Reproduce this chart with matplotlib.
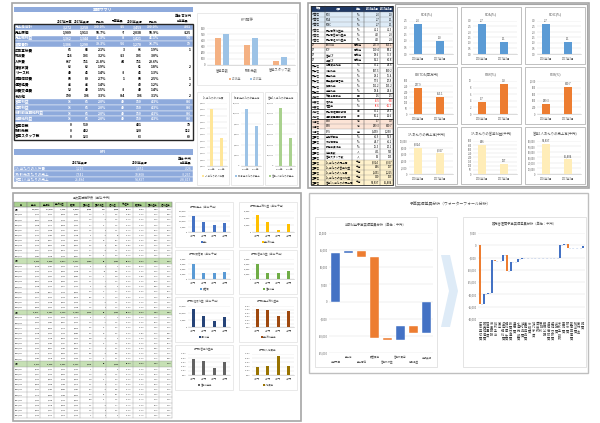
import matplotlib
matplotlib.use('Agg')
import matplotlib.pyplot as plt
from matplotlib.patches import Rectangle, Polygon

plt.rcParams['font.family'] = ['Noto Sans CJK JP', 'DejaVu Sans']

# ================================ data =================================

# 業績サマリ (単位:百万円)
summary_items = ['売上高合計', '売上原価', '売上総利益', '販管費計', '広告宣伝費', '物流費',
                 '人件費', '賃借家賃', 'リース料', '減価償却費', '通信経費', '旅費交通費',
                 'その他', '営業利益', '経常利益', '税引前当期純利益', '当期純利益',
                 '営業日数', '取引先数', '営業スタッフ数']
budget_2017 = [3272, 1909, 1362, 1306, 65, 116, 667, 62, 49, 88, 45, 52, 190,
               16, 16, 16, 16, 0, 0, 0]
actual_2017 = [3258, 1913, 1344, 1290, 68, 103, 711, 62, 46, 89, 45, 49, 106,
               65, 65, 65, 65, 510, 432, 123]
ratio_2017 = [100.0, 58.7, 41.3, 39.3, 2.1, 3.2, 21.8, 1.9, 1.4, 2.7, 1.4, 1.5, 3.3,
              2.0, 2.0, 2.0, 2.0, None, None, None]
budget_diff = [-15, -7, -8, -56, 3, -13, 44, None, -3, 1, None, -3, -84,
               49, 49, 49, 49, None, None, None]
actual_2016 = [3459, 2038, 1421, 1270, 66, 103, 711, 61, 46, 88, 42, 49, 106,
               150, 150, 150, 150, 431, 320, 63]
ratio_2016 = [100.0, 58.9, 41.1, 36.7, 1.9, 3.0, 20.6, 1.8, 1.3, 2.5, 1.2, 1.4, 3.1,
              4.3, 4.3, 4.3, 4.3, None, None, None]
prev_diff = [-201, -125, -76, 19, 1, None, None, 2, None, 1, 2, None, 2,
             -86, -86, -86, -86, 79, 112, 60]
summary_blue = [0, 2, 3, 13, 14, 15, 16]
summary_head = ['2017年予算', '2017年実績', '売上比', '予算差異', '2016年実績', '売上比', '前年差異']

# KPI (単位:千円)
kpi_items = ['1人当たりの人件費', '1取引先あたりの売上', '営業1人当たりの売上']
kpi_2017 = [1225, 7541, 26484]
kpi_2016 = [1451, 10808, 54897]
kpi_diff = [-226, -3267, -28413]
kpi_chart_titles = ['1人当たりの人件費', '1取引先あたりの売上高', '営業1人当たりの売上高']

# KPI推移
trend_cats = ['営業日数', '取引先数', '営業スタッフ数']
trend_2016 = [431, 320, 63]
trend_2017 = [510, 432, 123]
years = ['2016年', '2017年']

# 経営指標一覧
ratio_head = ['分類', '項目', '単位', '2016年3月', '2017年3月']
ratio_cat = (['収益性'] * 6 + ['CF'] * 4 + ['安全性'] * 6 + ['効率性']
             + ['成長性'] * 2 + ['効率性'] * 2 + ['市場性'] * 3 + ['生産性'] * 10)
ratio_item = ['ROE', 'ROA', 'ROIC', '売上高総利益率', '売上高営業利益率', '売上高経常利益率',
              'EBITDA', 'FCF', '営業CF', '投資CF',
              '自己資本比率', '流動比率', '固定比率', '固定長期適合率', '負債比率', '当座比率',
              '総資本回転率', '増収率', '増益率', '売上債権回転期間', '棚卸資産回転期間',
              'PBR', 'PER', 'EPS',
              '労働分配率', '付加価値率', '設備投資効率', '従業員数', '営業スタッフ数',
              '1人当たりの売上高', '1人当たりの営業利益', '1人当たりの人件費',
              '1人当たりの経常利益', '営業1人当たりの売上高']
ratio_unit = (['%'] * 6 + ['百万円'] * 4 + ['%'] * 6 + ['回'] + ['%'] * 2 + ['日'] * 2
              + ['倍', '倍', '円'] + ['%', '%', '%', '人', '人'] + ['千円'] * 5)
ratio_v2016 = [2.3, 2.7, 2.7, 41.1, 4.3, 4.3, 237.9, 120.4, 98.6, 61.2,
               45.2, 187.3, 92.1, 70.5, 121.2, 98.4, 1.6, -4.5, -8.6, 45.1, 30.2,
               3.7, 289.3, 3459, 46.9, 44.7, 25.3, 431, 63,
               8024, 346, 1451, 310, 54897]
ratio_v2017 = [1.0, 1.1, 1.1, 41.3, 2.0, 2.0, 153.1, 88.2, 75.3, 40.8,
               44.8, 180.2, 95.4, 72.8, 123.2, 94.6, 1.5, -5.8, -56.7, 48.3, 32.6,
               9.2, 810.7, 3258, 52.9, 46.2, 20.1, 513, 123,
               6357, 127, 1225, 135, 26484]
ratio_blue = [0, 1, 2]
ratio_salmon = [6, 21, 22]
ratio_yellow = [29, 30, 31, 32, 33]
ratio_red = [17, 18]

# 経営指標グラフ
metric_titles = ['ROE(%)', 'ROA(%)', 'ROIC(%)', 'EBITDA(百万円)', 'PBR(%)', 'PER(%)',
                 '1人あたりの売上高(千円)', '1人あたりの営業利益(千円)', '営業1人あたりの売上高(千円)']
metric_2016 = [2.3, 2.7, 2.7, 237.9, 3.7, 289.3, 8024, 346, 54897]
metric_2017 = [1.0, 1.1, 1.1, 153.1, 9.2, 810.7, 6357, 127, 26484]
metric_ticks = [(0, 2.5, 0.5), (0, 3.0, 0.5), (0, 3.0, 0.5), (0, 300, 50), (0, 10, 2),
                (0, 1000, 200), (0, 10000, 2000), (0, 400, 50), (0, 60000, 10000)]
metric_years = ['2016年3月', '2017年3月']

# 月次実績推移表 (単位:千円)
monthly_head = ['月', '売上高', '売上原価', '売上総利益', '販管費', '営業利益', '営業外損益',
                '経常利益', '総利益率', '販管費率', '営業利益率', '経常利益率']
monthly_sales = [4851, 5062, 4930, 5127, 4788, 5310, 5245, 4967, 5402,
                 4620, 4895, 5133, 5018, 4760, 5290, 5377, 4912, 5066,
                 4703, 4988, 5214, 5150, 4835, 5341, 5263, 4879, 5105,
                 4692, 4957, 5188, 5036, 4811, 5275, 5398, 4926, 5082, 4744]
monthly_cost = [2812, 2950, 2871, 2990, 2805, 3087, 3041, 2889, 3150,
                2702, 2853, 2991, 2920, 2783, 3077, 3122, 2860, 2944,
                2748, 2901, 3036, 2998, 2820, 3104, 3061, 2847, 2970,
                2741, 2889, 3019, 2930, 2806, 3069, 3140, 2870, 2957, 2772]
monthly_sga = [1905, 1988, 1942, 2011, 1890, 2065, 2038, 1951, 2097,
               1866, 1930, 2003, 1967, 1882, 2044, 2079, 1939, 1990,
               1871, 1958, 2026, 2009, 1915, 2071, 2045, 1927, 1996,
               1868, 1944, 2019, 1975, 1901, 2052, 2088, 1935, 1989, 1884]
monthly_nonop = [12, -8, 15, 5, -3, 20, 9, -6, 14,
                 3, -10, 11, 7, -4, 18, 13, -2, 6,
                 4, -7, 16, 10, -5, 19, 8, -3, 12,
                 2, -9, 14, 6, -2, 17, 15, -4, 9, 3]
monthly_blocks = [9, 9, 9, 10]
first_month = (2014, 4)

# 部門別グラフ
dept_names = ['A部門', 'B部門', 'C部門', 'D部門']
dept_titles = ['部門別売上（単位:千円）', '部門別売上総利益（単位:千円）',
               '部門別販管費（単位:千円）', '部門別営業利益（単位:千円）',
               '部門別経常利益（単位:千円）', '部門別売上総利益率',
               '部門別営業利益率', '部門別人件費率']
dept_legend = ['売上', '売上総利益', '販管費', '営業利益', '経常利益', '売上総利益率',
               '営業利益率', '人件費率']
dept_values = [[148000, 95000, 68000, 85000],
               [50000, 29000, 5000, 22000],
               [60000, 25000, 23000, 30000],
               [61000, 26000, 24000, 31000],
               [130000, 80000, 42000, 70000],
               [0.52, 0.48, 0.32, 0.46],
               [0.39, 0.33, 0.17, 0.31],
               [0.18, 0.22, 0.45, 0.22]]
dept_ticks = [(0, 200000, 50000), (0, 60000, 20000), (0, 80000, 20000), (0, 80000, 20000),
              (0, 150000, 50000), (0, 0.6, 0.1), (0, 0.5, 0.1), (0, 0.5, 0.1)]
dept_colors = ['#4472c4', '#ffc000', '#5b9bd5', '#70ad47',
               '#264478', '#9e480e', '#636363', '#997300']

# ウォーターフォール
profit_items = ['当期予算', '売上高', '売上原価', '販管費等', '営業外収益', '営業外費用',
                '特別損益', '当期実績']
profit_budget = 14200
profit_steps = [500, -1600, -23800, -500, 4000, -2000]

sga_items = ['広告宣伝費', '販売促進費', '荷造運賃', '役員報酬', '給料手当', '賞与',
             '法定福利費', '福利厚生費', '旅費交通費', '通信費', '水道光熱費', '消耗品費',
             '事務用品費', '修繕費', '地代家賃', '賃借料', '保険料', '租税公課',
             '減価償却費', '接待交際費', '会議費', '支払手数料', '車両費', '研修費',
             '新聞図書費', '諸会費', '寄付金', '雑費']
sga_steps = [-23800, 4000, 300, 13500, -300, -200, 2500, -6300, 3300, 200,
             1200, 250, 100, 80, 60, -50, 40, 30, -40, 20,
             30, 5300, 500, -1900, -50, 0, 30, 1100]

# ================================ setup ================================

W, H = 600, 423
fig = plt.figure(figsize=(6, 4.23), dpi=100)
bg = fig.add_axes([0, 0, 1, 1])
bg.set_xlim(0, W)
bg.set_ylim(H, 0)
bg.axis('off')

BLUE = '#8eaadc'
GRAY_TXT = '#595959'
WF_BLUE = '#4472c4'
WF_ORANGE = '#ed7d31'


def box(x0, y0, x1, y1, fc='white', ec='#bfbfbf', lw=0.6, z=1):
    bg.add_patch(Rectangle((x0, y0), x1 - x0, y1 - y0, facecolor=fc,
                           edgecolor=ec, linewidth=lw, zorder=z))


def hline(x0, x1, y, color='#808080', lw=0.25, z=3):
    bg.plot([x0, x1], [y, y], color=color, linewidth=lw, zorder=z)


def vline(x, y0, y1, color='#808080', lw=0.25, z=3):
    bg.plot([x, x], [y0, y1], color=color, linewidth=lw, zorder=z)


def txt(x, y, s, size=2.4, ha='center', color='black', weight='normal', z=5):
    bg.text(x, y, s, fontsize=size, ha=ha, va='center', color=color,
            fontweight=weight, zorder=z)


def sub_axes(x0, y0, x1, y1):
    ax = fig.add_axes([x0 / W, 1 - y1 / H, (x1 - x0) / W, (y1 - y0) / H])
    ax.patch.set_alpha(0)
    return ax


def style_axes(ax, ticks, yfmt, size, spine=True):
    ax.set_ylim(ticks[0], ticks[-1])
    ax.set_yticks(ticks)
    ax.set_yticklabels([yfmt(v) for v in ticks])
    ax.grid(axis='y', color='#d9d9d9', linewidth=0.3)
    ax.set_axisbelow(True)
    for s in ('top', 'right', 'left'):
        ax.spines[s].set_visible(False)
    ax.spines['bottom'].set_visible(spine)
    ax.spines['bottom'].set_color('#bfbfbf')
    ax.spines['bottom'].set_linewidth(0.4)
    ax.tick_params(length=0, labelsize=size, colors=GRAY_TXT, pad=1)


def tick_list(lo, hi, step):
    n = int(round((hi - lo) / step))
    return [lo + k * step for k in range(n + 1)]


def legend_item(cx, cy, label, color, size):
    w = 2.8 + len(label) * size * 1.25
    x = cx - w / 2
    bg.add_patch(Rectangle((x, cy - 1), 2, 2, facecolor=color, edgecolor='none', zorder=5))
    txt(x + 2.8, cy, label, size=size, ha='left', color=GRAY_TXT)


def f_int(v):
    return '' if v is None else f'{v:,}'


def f_pct(v):
    return '' if v is None else f'{v:.1f}%'


# ============================ 業績サマリ ============================

def draw_summary():
    box(12, 3, 300, 188, ec='#a6a6a6', lw=1.2)
    box(14, 7, 193, 12.5, fc=BLUE, ec='none')
    txt(103, 9.8, '業績サマリ', size=2.8, color='white', weight='bold')
    txt(192, 15.5, '単位:百万円', size=2.3, ha='right')
    head_x = [65, 82, 100, 118, 135, 153, 183]
    for x, h in zip(head_x, summary_head):
        txt(x, 21.5, h, size=2.1, weight='bold')

    right_x = [72, 89, 106, 125, 142, 159, 191]
    top, rh = 24.0, 5.78
    for i, name in enumerate(summary_items):
        y = top + i * rh
        blue = i in summary_blue
        if blue:
            box(14, y, 193, y + rh, fc=BLUE, ec='white', lw=0.3, z=2)
        col = 'white' if blue else 'black'
        txt(15, y + rh / 2, name, size=2.6, ha='left', color=col, weight='bold')
        cells = [f_int(budget_2017[i]), f_int(actual_2017[i]), f_pct(ratio_2017[i]),
                 f_int(budget_diff[i]), f_int(actual_2016[i]), f_pct(ratio_2016[i]),
                 f_int(prev_diff[i])]
        for x, c in zip(right_x, cells):
            txt(x, y + rh / 2, c, size=2.4, ha='right', color=col, weight='bold')
    box(14, top, 193, top + len(summary_items) * rh, fc='none', ec='#262626', lw=1.0, z=6)

    # KPI
    box(14, 149.5, 193, 155, fc=BLUE, ec='none')
    txt(103, 152.3, 'KPI', size=2.6, color='white', weight='bold')
    txt(192, 159, '単位:千円', size=2.3, ha='right')
    txt(80, 163, '2017年実績', size=2.1, weight='bold')
    txt(140, 163, '2016年実績', size=2.1, weight='bold')
    txt(191, 163.5, '前年差異', size=2.1, ha='right', weight='bold')
    for i, name in enumerate(kpi_items):
        y = 166 + i * 5.5
        box(14, y, 193, y + 5.5, fc=BLUE, ec='white', lw=0.3, z=2)
        txt(15, y + 2.75, name, size=2.6, ha='left', color='white')
        txt(80, y + 2.75, f_int(kpi_2017[i]), size=2.4, color='white')
        txt(140, y + 2.75, f_int(kpi_2016[i]), size=2.4, color='white')
        txt(191, y + 2.75, f_int(kpi_diff[i]), size=2.4, ha='right', color='white')

    # KPI推移
    box(197, 13, 297, 85, ec='#d9d9d9', lw=0.4)
    txt(247, 20, 'KPI推移', size=2.6, color=GRAY_TXT)
    ax = sub_axes(207, 28, 295, 65)
    xs = range(len(trend_cats))
    ax.bar([x - 0.13 for x in xs], trend_2016, width=0.22, color='#f4b183')
    ax.bar([x + 0.13 for x in xs], trend_2017, width=0.22, color='#9dc3e6')
    ax.set_xticks(list(xs))
    ax.set_xticklabels(trend_cats)
    ax.set_xlim(-0.52, 2.52)
    style_axes(ax, tick_list(0, 600, 100), lambda v: f'{v:,}', 2.0)
    ax.tick_params(axis='x', labelsize=2.3, pad=2.5)
    legend_item(237, 79, years[0], '#f4b183', 2.1)
    legend_item(258, 79, years[1], '#9dc3e6', 2.1)

    # three small KPI charts
    lefts = [197, 231, 265]
    colors = ['#ffe699', '#9dc3e6', '#a9d18e']
    ticks = [(1000, 1500, 50), (0, 12000, 2000), (0, 60000, 10000)]
    for k in range(3):
        L, R = lefts[k], lefts[k] + 32
        box(L, 92, R, 185, ec='#d9d9d9', lw=0.4)
        txt((L + R) / 2, 97, kpi_chart_titles[k], size=1.8, color=GRAY_TXT)
        ax = sub_axes(L + 10, 103, R - 2, 166)
        ax.bar([0, 1], [kpi_2016[k], kpi_2017[k]], width=0.3, color=colors[k])
        ax.set_xticks([0, 1])
        ax.set_xticklabels(years)
        ax.set_xlim(-0.5, 1.5)
        style_axes(ax, tick_list(*ticks[k]), lambda v: f'{v:,}', 1.7)
        legend_item((L + R) / 2, 176, kpi_items[k], colors[k], 1.7)


# ============================ 経営指標 ============================

def draw_ratios():
    box(308, 3, 589, 188, ec='#a6a6a6', lw=1.2)
    cols = [311, 325, 352, 364, 380, 393]
    box(cols[0], 6, cols[-1], 12, fc='#1f3864', ec='none', z=2)
    for j, h in enumerate(ratio_head):
        txt((cols[j] + cols[j + 1]) / 2, 9, h, size=1.9, color='white', weight='bold')
    n = len(ratio_item)
    rh = (185 - 12) / n
    for i in range(n):
        y = 12 + i * rh
        if i in ratio_blue:
            fc = '#ddebf7'
        elif i in ratio_salmon:
            fc = '#fce4d6'
        elif i in ratio_yellow:
            fc = '#fff2cc'
        else:
            fc = 'white'
        box(cols[0], y, cols[-1], y + rh, fc=fc, ec='none', z=2)
        cy = y + rh / 2
        txt(cols[0] + 0.8, cy, ratio_cat[i], size=1.9, ha='left')
        txt(cols[1] + 0.8, cy, ratio_item[i], size=1.9, ha='left')
        txt((cols[2] + cols[3]) / 2, cy, ratio_unit[i], size=1.9)
        vcol = 'red' if i in ratio_red else 'black'
        if ratio_unit[i] in ('千円', '人', '円'):
            vals = [f'{ratio_v2016[i]:,}', f'{ratio_v2017[i]:,}']
        else:
            vals = [f'{ratio_v2016[i]:.1f}', f'{ratio_v2017[i]:.1f}']
        txt(cols[4] - 0.8, cy, vals[0], size=1.9, ha='right', color=vcol)
        txt(cols[5] - 0.8, cy, vals[1], size=1.9, ha='right', color=vcol)
        thick = i > 0 and ratio_cat[i] != ratio_cat[i - 1]
        hline(cols[0], cols[-1], y, color='#262626' if thick else '#8c8c8c',
              lw=0.6 if thick else 0.25)
    for x in cols:
        vline(x, 6, 185, color='#404040', lw=0.3)
    box(cols[0], 6, cols[-1], 185, fc='none', ec='#262626', lw=0.6, z=4)

    box(395, 4.5, 587, 186, ec='#a6a6a6', lw=0.8)
    lefts = [397, 461, 525]
    tops = [7, 67, 127]
    colors = ['#5b9bd5', '#ed7d31', '#ffedb8']
    for k in range(9):
        r, c = divmod(k, 3)
        L, T = lefts[c], tops[r]
        R, B = L + 60, T + 57
        box(L, T, R, B, ec='#a6a6a6', lw=0.5)
        txt((L + R) / 2, T + 7, metric_titles[k], size=2.4, color=GRAY_TXT)
        ax = sub_axes(L + 12, T + 14, R - 4, B - 10)
        vals = [metric_2016[k], metric_2017[k]]
        ax.bar([0, 1], vals, width=0.36, color=colors[r])
        ax.set_xticks([0, 1])
        ax.set_xticklabels(metric_years)
        ax.set_xlim(-0.4, 1.6)
        lo, hi, st = metric_ticks[k]
        if r == 0:
            yf = lambda v: f'{v:.1f}'
        else:
            yf = lambda v: f'{v:,.0f}'
        style_axes(ax, tick_list(lo, hi, st), yf, 1.8)
        ax.tick_params(axis='x', labelsize=1.9, pad=2)
        for x, v in zip([0, 1], vals):
            lab = f'{v:,.0f}' if r == 2 else f'{v:.1f}'
            ax.text(x, v + (hi - lo) * 0.03, lab, ha='center', va='bottom',
                    fontsize=1.9, color='#404040')


# ============================ 月次実績推移表 ============================

def draw_monthly():
    box(13, 193, 301, 421, ec='#a6a6a6', lw=1.2)
    txt(93, 197.5, '月次実績推移表（単位:千円）', size=2.2, color=GRAY_TXT)
    x0, x1 = 14, 172
    ncol = len(monthly_head)
    cw = (x1 - x0) / ncol

    # build rows (month / block subtotal / grand total)
    labels = []
    y0, m0 = first_month
    for k in range(len(monthly_sales)):
        mm = m0 - 1 + k
        labels.append(f'{y0 + mm // 12}/{mm % 12 + 1:02d}')
    month_rows = list(zip(labels, monthly_sales, monthly_cost, monthly_sga, monthly_nonop))

    def total(name, rows, kind):
        return (name, sum(r[1] for r in rows), sum(r[2] for r in rows),
                sum(r[3] for r in rows), sum(r[4] for r in rows), kind)

    rows = [total('合計', month_rows, 'total')]
    idx = 0
    for b, size in enumerate(monthly_blocks):
        block = month_rows[idx:idx + size]
        rows += [r + ('month',) for r in block]
        idx += size
        if b < len(monthly_blocks) - 1:
            rows.append(total('小計', block, 'sub'))

    # header
    top, hh = 202, 5
    for j, h in enumerate(monthly_head):
        box(x0 + j * cw, top, x0 + (j + 1) * cw, top + hh, fc='#a9d08e', ec='#7f7f7f', lw=0.25, z=2)
        txt(x0 + (j + 0.5) * cw, top + hh / 2, h, size=1.4)
    rh = (418 - top - hh) / len(rows)
    for i, (name, s, c, g, nn, kind) in enumerate(rows):
        y = top + hh + i * rh
        if kind == 'sub':
            box(x0, y, x1, y + rh, fc='#c6e0b4', ec='none', z=2)
        gross = s - c
        op = gross - g
        ordi = op + nn
        cells = [f'{s:,}', f'{c:,}', f'{gross:,}', f'{g:,}', f'{op:,}', f'{nn:,}', f'{ordi:,}',
                 f'{gross / s:.1%}', f'{g / s:.1%}', f'{op / s:.1%}', f'{ordi / s:.1%}']
        wt = 'bold' if kind != 'month' else 'normal'
        txt(x0 + 0.6, y + rh / 2, name, size=1.5, ha='left', weight=wt)
        for j, cell in enumerate(cells):
            txt(x0 + (j + 2) * cw - 0.6, y + rh / 2, cell, size=1.45, ha='right',
                color='#262626', weight=wt)
        hline(x0, x1, y, color='#8c8c8c', lw=0.25)
    hline(x0, x1, 418, color='#8c8c8c', lw=0.25)
    for j in range(ncol + 1):
        vline(x0 + j * cw, top, 418, color='#8c8c8c', lw=0.25)

    # department charts
    lefts = [175, 239]
    rows_y = [(202, 247), (250, 294), (297, 342), (345, 390)]
    for k in range(len(dept_titles)):
        r, c = divmod(k, 2)
        L, R = lefts[c], lefts[c] + 58
        T, B = rows_y[r]
        box(L, T, R, B, ec='#d9d9d9', lw=0.4)
        txt((L + R) / 2, T + 4.5, dept_titles[k], size=1.8, color=GRAY_TXT)
        ax = sub_axes(L + 13, T + 9, R - 3, B - 15)
        ax.bar(range(4), dept_values[k], width=0.3, color=dept_colors[k])
        ax.set_xticks(range(4))
        ax.set_xticklabels(dept_names)
        ax.set_xlim(-0.5, 3.5)
        if k >= 5:
            yf = lambda v: f'{v * 100:.1f}%'
        else:
            yf = lambda v: f'{v:,.0f}'
        style_axes(ax, tick_list(*dept_ticks[k]), yf, 1.5)
        ax.tick_params(axis='x', labelsize=1.6, pad=2)
        legend_item((L + R) / 2, B - 5, dept_legend[k], dept_colors[k], 1.6)


# ============================ ウォーターフォール ============================

def draw_waterfalls():
    box(309, 193, 588, 373, ec='#bfbfbf', lw=1.0)
    txt(450, 204, '予算実績差異分析（ウォーターフォール分析）', size=2.8, color=GRAY_TXT)

    # chevron
    bg.add_patch(Polygon([(441, 255), (450, 255), (458, 291), (450, 327), (441, 327), (449, 291)],
                         closed=True, facecolor='#deebf7', edgecolor='none', zorder=2))

    # left: 当期利益
    box(315, 217, 437, 367, ec='#d9d9d9', lw=0.5)
    txt(376, 224, '当期利益予算実績差異分析（単位：千円）', size=2.3, color=GRAY_TXT)
    ax = sub_axes(329, 233, 433, 353)
    bottoms, heights, colors = [0], [profit_budget], [WF_BLUE]
    level = profit_budget
    for d in profit_steps:
        bottoms.append(level)
        heights.append(d)
        colors.append(WF_BLUE if d > 0 else WF_ORANGE)
        level += d
    bottoms.append(0)
    heights.append(level)
    colors.append(WF_BLUE)
    ax.bar(range(len(heights)), heights, bottom=bottoms, width=0.68, color=colors,
           edgecolor='white', linewidth=0.3)
    ax.set_xlim(-0.5, len(heights) - 0.5)
    style_axes(ax, tick_list(-15000, 20000, 5000), lambda v: f'{v:,}', 1.9, spine=False)
    ax.set_xticks([])
    for i, lab in enumerate(profit_items):
        ax.text(i, -0.035 if i % 2 else -0.075, lab, transform=ax.get_xaxis_transform(),
                ha='center', va='center', fontsize=1.8, color=GRAY_TXT)

    # right: 販売管理費
    box(463, 217, 586, 367, ec='#d9d9d9', lw=0.5)
    txt(524, 224, '販売管理費予算実績差異分析（単位：千円）', size=2.3, color=GRAY_TXT)
    ax = sub_axes(478, 233, 585, 319)
    bottoms, colors, level = [], [], 0
    for d in sga_steps:
        bottoms.append(level)
        colors.append(WF_BLUE if d > 0 else WF_ORANGE)
        level += d
    n = len(sga_steps)
    ax.bar(range(n), sga_steps, bottom=bottoms, width=0.55, color=colors)
    for i in range(n - 1):
        lv = bottoms[i] + sga_steps[i]
        ax.plot([i + 0.27, i + 0.73], [lv, lv], color='#8faadc', linewidth=0.4,
                linestyle=(0, (2, 1.5)))
    ax.set_xlim(-0.6, n - 0.4)
    style_axes(ax, tick_list(-30000, 5000, 5000), lambda v: f'{v:,}', 1.9, spine=False)
    ax.set_xticks([])
    for i, lab in enumerate(sga_items):
        ax.text(i, -0.03, '\n'.join(lab), transform=ax.get_xaxis_transform(),
                ha='center', va='top', fontsize=2.3, linespacing=0.95, color='#404040')


def main():
    draw_summary()
    draw_ratios()
    draw_monthly()
    draw_waterfalls()
    fig.savefig('out.png', dpi=100)


if __name__ == '__main__':
    main()
